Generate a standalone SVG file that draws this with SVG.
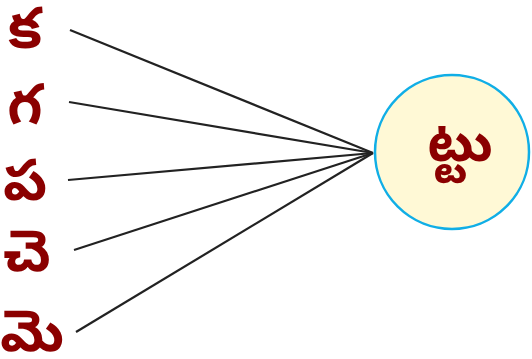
<svg xmlns="http://www.w3.org/2000/svg" width="532" height="359" viewBox="0 0 532 359">
<style>
.t{font-family:"Noto Sans Telugu","Noto Sans","DejaVu Sans",sans-serif;font-weight:bold;fill:#8b0000;text-anchor:middle}
.l{stroke:#222;stroke-width:2.2;fill:none}
</style>
<rect width="532" height="359" fill="#fff"/>
<g id="connectors">
<line class="l" x1="70" y1="30" x2="373" y2="153"/>
<line class="l" x1="69" y1="102" x2="373" y2="153"/>
<line class="l" x1="68" y1="180" x2="373" y2="153"/>
<line class="l" x1="74" y1="250" x2="373" y2="153"/>
<line class="l" x1="76" y1="332" x2="373" y2="153"/>
</g>
<g id="n1"><text class="t" x="25" y="48" font-size="57">క</text></g>
<g id="n2"><text class="t" x="25" y="124" font-size="57">గ</text></g>
<g id="n3"><text class="t" x="25" y="200" font-size="57">ప</text></g>
<g id="n4"><text class="t" x="27" y="271" font-size="57">చె</text></g>
<g id="n5"><text class="t" x="32" y="351" font-size="57">మె</text></g>
<g id="center"><circle cx="452" cy="152" r="77" fill="#fff9d6" stroke="#10aee6" stroke-width="2.5"/>
<text class="t" x="460" y="161" font-size="55">ట్టు</text></g>
</svg>
